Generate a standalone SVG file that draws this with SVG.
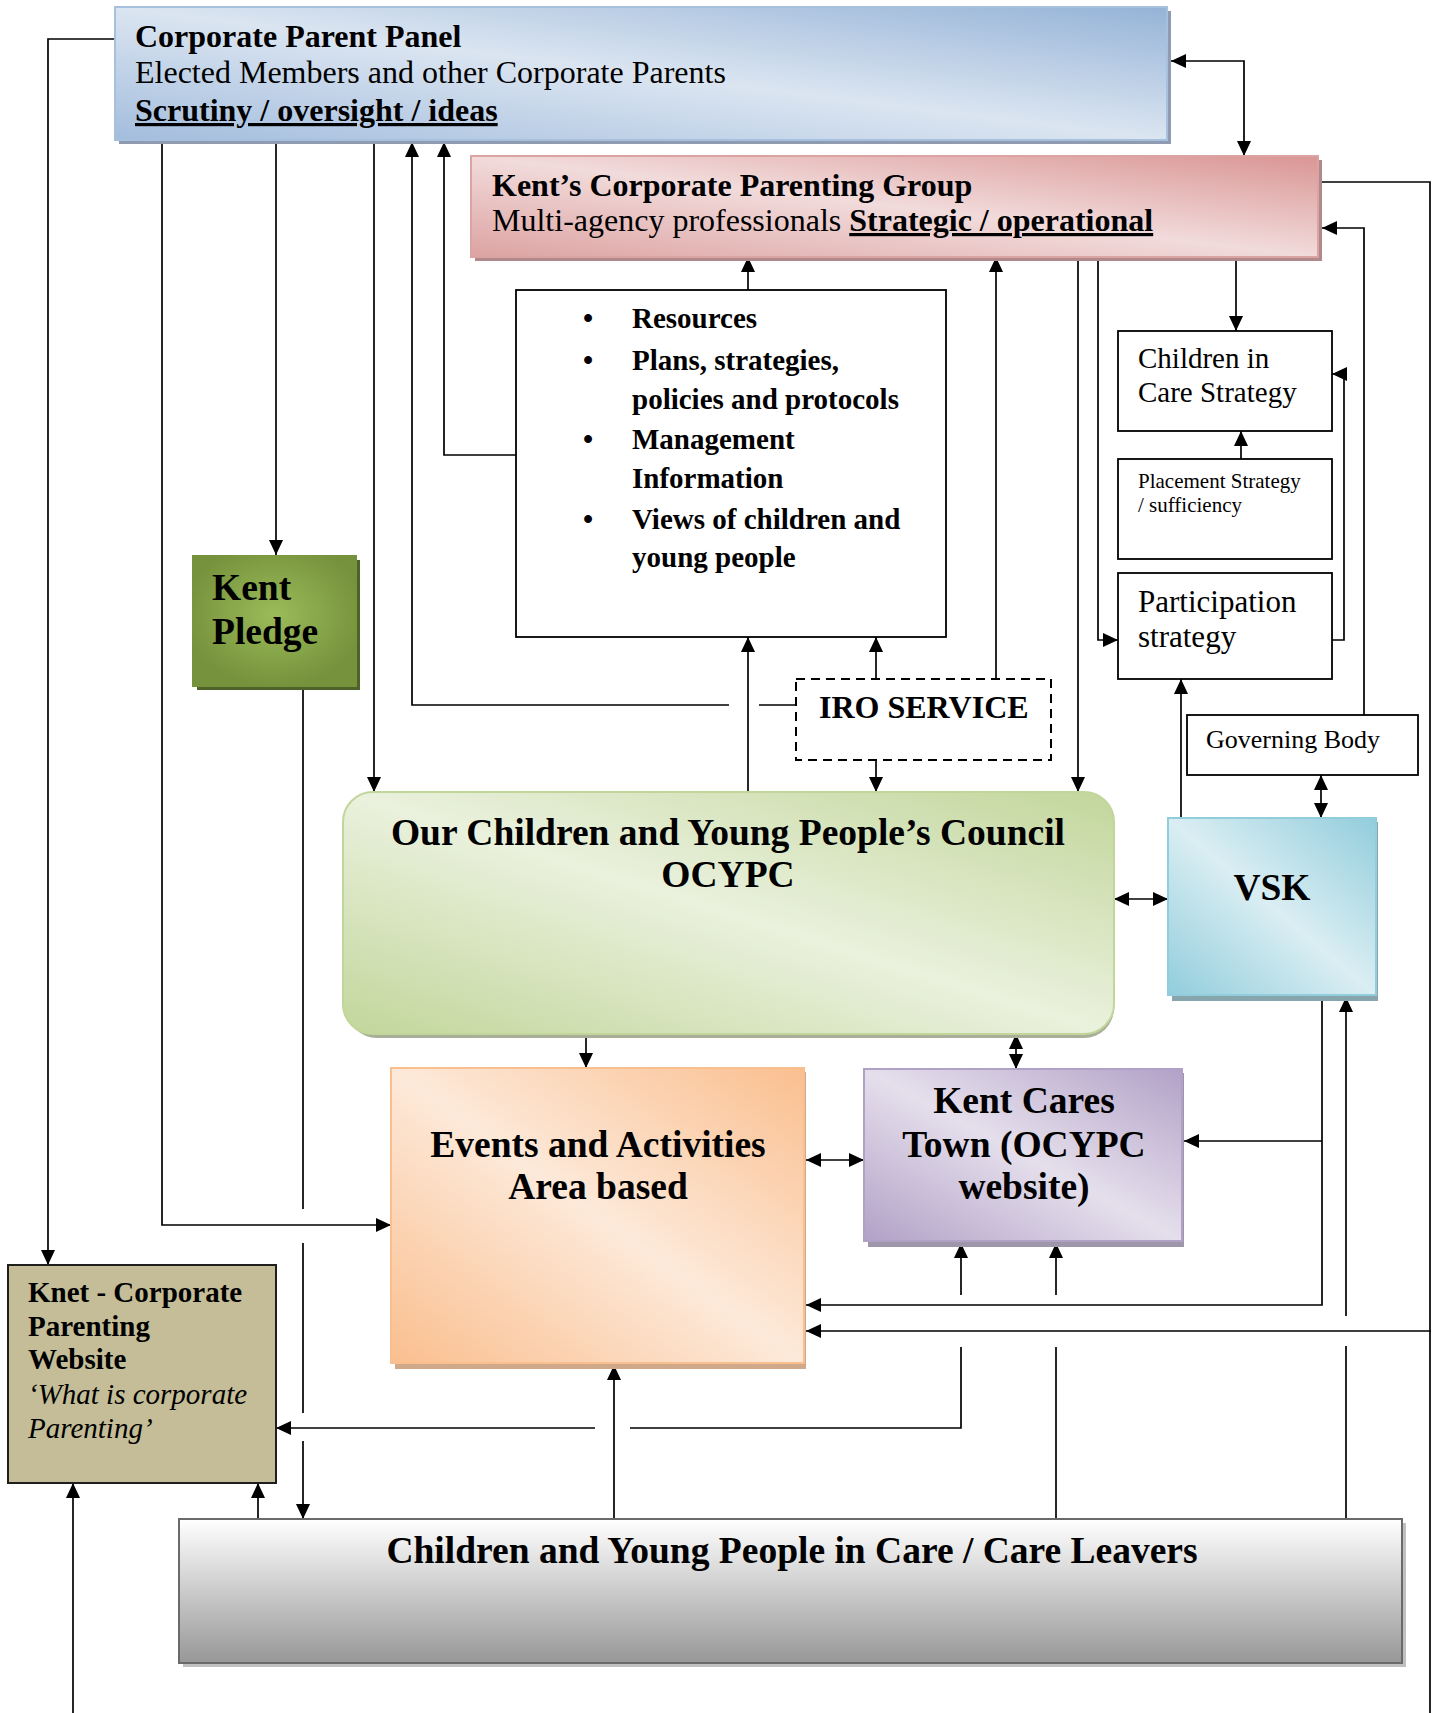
<svg xmlns="http://www.w3.org/2000/svg" width="1434" height="1713" viewBox="0 0 1434 1713">
<style>
text{font-family:"Liberation Serif","Times New Roman",serif;fill:#000}
.b{font-weight:bold}
.it{font-style:italic}
.u{text-decoration:underline}
.c{text-anchor:middle}
.f32{font-size:32px}
.f37{font-size:37.5px}
.f29{font-size:29px}
.box{fill:#fff;stroke:#000;stroke-width:1.8}
.con path{fill:none;stroke:#000;stroke-width:1.7}
.arr{marker-end:url(#ah)}
.two{marker-start:url(#ah);marker-end:url(#ah)}
</style>
<defs>
<marker id="ah" viewBox="0 0 15 14" refX="15" refY="7" markerWidth="15" markerHeight="14" markerUnits="userSpaceOnUse" orient="auto-start-reverse"><path d="M0,0 L15,7 L0,14 z" fill="#000"/></marker>
<linearGradient id="gBlue" x1="1" y1="0" x2="0" y2="1"><stop offset="0" stop-color="#95b3d7"/><stop offset="0.5" stop-color="#dbe5f1"/><stop offset="1" stop-color="#a3bddd"/></linearGradient>
<linearGradient id="gRed" x1="1" y1="0" x2="0" y2="1"><stop offset="0" stop-color="#d99594"/><stop offset="0.5" stop-color="#f2dbdb"/><stop offset="1" stop-color="#dca3a2"/></linearGradient>
<linearGradient id="gGreen" x1="1" y1="0" x2="0" y2="1"><stop offset="0" stop-color="#c2d69b"/><stop offset="0.5" stop-color="#eaf1dd"/><stop offset="1" stop-color="#c2d69b"/></linearGradient>
<linearGradient id="gOrange" x1="1" y1="0" x2="0" y2="1"><stop offset="0" stop-color="#fabf8f"/><stop offset="0.5" stop-color="#fde9d9"/><stop offset="1" stop-color="#fabf8f"/></linearGradient>
<linearGradient id="gPurple" x1="1" y1="0" x2="0" y2="1"><stop offset="0" stop-color="#b2a1c7"/><stop offset="0.5" stop-color="#e5dfec"/><stop offset="1" stop-color="#b2a1c7"/></linearGradient>
<linearGradient id="gCyan" x1="1" y1="0" x2="0" y2="1"><stop offset="0" stop-color="#92cddc"/><stop offset="0.5" stop-color="#daeef3"/><stop offset="1" stop-color="#92cddc"/></linearGradient>
<linearGradient id="gGray" x1="0" y1="0" x2="0" y2="1"><stop offset="0" stop-color="#ffffff"/><stop offset="1" stop-color="#979797"/></linearGradient>
<radialGradient id="gPledge" cx="0.5" cy="0.45" r="0.55"><stop offset="0" stop-color="#9bbb59"/><stop offset="1" stop-color="#76923c"/></radialGradient>
</defs>

<g id="connectors" class="con">
<path class="two" d="M1171,61 H1244 V156"/>
<path class="arr" d="M115,39 H48 V1265"/>
<path class="arr" d="M162,142 V1225 H391"/>
<path class="arr" d="M276,142 V555"/>
<path class="arr" d="M374,142 V792"/>
<path d="M796,705 H759"/>
<path class="arr" d="M729,705 H412 V142"/>
<path class="arr" d="M516,455 H444 V142"/>
<path class="arr" d="M748,290 V257"/>
<path class="arr" d="M748,792 V637"/>
<path class="arr" d="M876,679 V637"/>
<path class="arr" d="M876,760 V792"/>
<path class="arr" d="M996,679 V257"/>
<path class="arr" d="M1078,257 V792"/>
<path class="arr" d="M1098,257 V640 H1118"/>
<path class="arr" d="M1236,257 V331"/>
<path class="arr" d="M1241,459 V431"/>
<path class="arr" d="M1332,640 H1344 V374 H1332"/>
<path class="arr" d="M1364,715 V228 H1322"/>
<path class="arr" d="M1322,182 H1430 V1331 H806"/>
<path d="M1430,1331 V1713"/>
<path class="arr" d="M1181,818 V679"/>
<path class="two" d="M1321,775 V818"/>
<path class="two" d="M1114,899 H1168"/>
<path class="arr" d="M586,1034 V1068"/>
<path class="two" d="M1016,1034 V1069"/>
<path class="two" d="M806,1160 H864"/>
<path class="arr" d="M1322,997 V1305 H806"/>
<path class="arr" d="M1322,1141 H1184"/>
<path d="M1346,1519 V1346"/>
<path class="arr" d="M1346,1316 V997"/>
<path d="M1056,1519 V1347"/>
<path class="arr" d="M1056,1295 V1243"/>
<path class="arr" d="M961,1295 V1243"/>
<path d="M961,1347 V1428 H630"/>
<path class="arr" d="M595,1428 H276"/>
<path class="arr" d="M614,1519 V1365"/>
<path class="arr" d="M258,1519 V1483"/>
<path d="M303,687 V1209"/>
<path d="M303,1243 V1413"/>
<path class="arr" d="M303,1441 V1519"/>
<path class="arr" d="M73,1713 V1483"/>
</g>

<g id="corporate-parent-panel">
<rect x="119" y="11" width="1052" height="133" fill="#8e9bb0"/>
<rect x="115" y="7" width="1052" height="133" fill="url(#gBlue)" stroke="#a7c0de" stroke-width="2"/>
<text class="b f32" x="135" y="47">Corporate Parent Panel</text>
<text class="f32" x="135" y="83">Elected Members and other Corporate Parents</text>
<text class="b u f32" x="135" y="121">Scrutiny / oversight / ideas</text>
</g>

<g id="kents-corporate-parenting-group">
<rect x="475" y="160" width="847" height="101" fill="#b08a8a"/>
<rect x="471" y="156" width="847" height="101" fill="url(#gRed)" stroke="#dba3a2" stroke-width="2"/>
<text class="b f32" x="492" y="196">Kent’s Corporate Parenting Group</text>
<text class="f32" x="492" y="231">Multi-agency professionals <tspan class="b u">Strategic / operational</tspan></text>
</g>

<g id="bullet-list">
<rect class="box" x="516" y="290" width="430" height="347"/>
<text class="b f29" x="583" y="328">•</text>
<text class="b f29" x="632" y="328">Resources</text>
<text class="b f29" x="583" y="370">•</text>
<text class="b f29" x="632" y="370">Plans, strategies,</text>
<text class="b f29" x="632" y="409">policies and protocols</text>
<text class="b f29" x="583" y="449">•</text>
<text class="b f29" x="632" y="449">Management</text>
<text class="b f29" x="632" y="488">Information</text>
<text class="b f29" x="583" y="529">•</text>
<text class="b f29" x="632" y="529">Views of children and</text>
<text class="b f29" x="632" y="567">young people</text>
</g>

<g id="iro-service">
<rect x="796" y="679" width="255" height="81" fill="#fff" stroke="#000" stroke-width="2" stroke-dasharray="9,6"/>
<text class="b f32" x="819" y="718">IRO SERVICE</text>
</g>

<g id="children-in-care-strategy">
<rect class="box" x="1118" y="331" width="214" height="100"/>
<text class="f29" x="1138" y="368">Children in</text>
<text class="f29" x="1138" y="402">Care Strategy</text>
</g>

<g id="placement-strategy">
<rect class="box" x="1118" y="459" width="214" height="100"/>
<text x="1138" y="488" font-size="21">Placement Strategy</text>
<text x="1138" y="512" font-size="21">/ sufficiency</text>
</g>

<g id="participation-strategy">
<rect class="box" x="1118" y="573" width="214" height="106"/>
<text x="1138" y="612" font-size="31">Participation</text>
<text x="1138" y="647" font-size="31">strategy</text>
</g>

<g id="governing-body">
<rect class="box" x="1187" y="715" width="231" height="60"/>
<text x="1206" y="748" font-size="26">Governing Body</text>
</g>

<g id="kent-pledge">
<rect x="197" y="560" width="163" height="130" fill="#4f6228"/>
<rect x="192" y="555" width="165" height="132" fill="url(#gPledge)"/>
<text class="b f37" x="212" y="600">Kent</text>
<text class="b f37" x="212" y="644">Pledge</text>
</g>

<g id="ocypc">
<rect x="347" y="796" width="767" height="242" rx="30" fill="#a8ae98"/>
<rect x="343" y="792" width="771" height="242" rx="30" fill="url(#gGreen)" stroke="#c2d69b" stroke-width="2"/>
<text class="b f37 c" x="728" y="845">Our Children and Young People’s Council</text>
<text class="b f37 c" x="728" y="887">OCYPC</text>
</g>

<g id="vsk">
<rect x="1172" y="822" width="206" height="179" fill="#86a5ad"/>
<rect x="1168" y="818" width="208" height="177" fill="url(#gCyan)" stroke="#92cddc" stroke-width="2"/>
<text class="b f37 c" x="1272" y="900">VSK</text>
</g>

<g id="events-and-activities">
<rect x="395" y="1072" width="411" height="297" fill="#d0a88a"/>
<rect x="391" y="1068" width="413" height="295" fill="url(#gOrange)" stroke="#fabf8f" stroke-width="2"/>
<text class="b f37 c" x="598" y="1157">Events and Activities</text>
<text class="b f37 c" x="598" y="1199">Area based</text>
</g>

<g id="kent-cares-town">
<rect x="868" y="1073" width="316" height="174" fill="#9e96a9"/>
<rect x="864" y="1069" width="318" height="172" fill="url(#gPurple)" stroke="#b2a1c7" stroke-width="2"/>
<text class="b f37 c" x="1024" y="1113">Kent Cares</text>
<text class="b f37 c" x="1024" y="1157">Town (OCYPC</text>
<text class="b f37 c" x="1024" y="1199">website)</text>
</g>

<g id="knet">
<rect x="8" y="1265" width="268" height="218" fill="#c4bd97" stroke="#1e1e1e" stroke-width="2"/>
<text class="b f29" x="28" y="1302">Knet - Corporate</text>
<text class="b f29" x="28" y="1336">Parenting</text>
<text class="b f29" x="28" y="1369">Website</text>
<text class="it f29" x="28" y="1404">‘What is corporate</text>
<text class="it f29" x="28" y="1438">Parenting’</text>
</g>

<g id="children-in-care-leavers">
<rect x="183" y="1523" width="1223" height="144" fill="#c0c0c0"/>
<rect x="179" y="1519" width="1223" height="144" fill="url(#gGray)" stroke="#6a6a6a" stroke-width="2"/>
<text class="b f37 c" x="792" y="1563">Children and Young People in Care / Care Leavers</text>
</g>
</svg>
